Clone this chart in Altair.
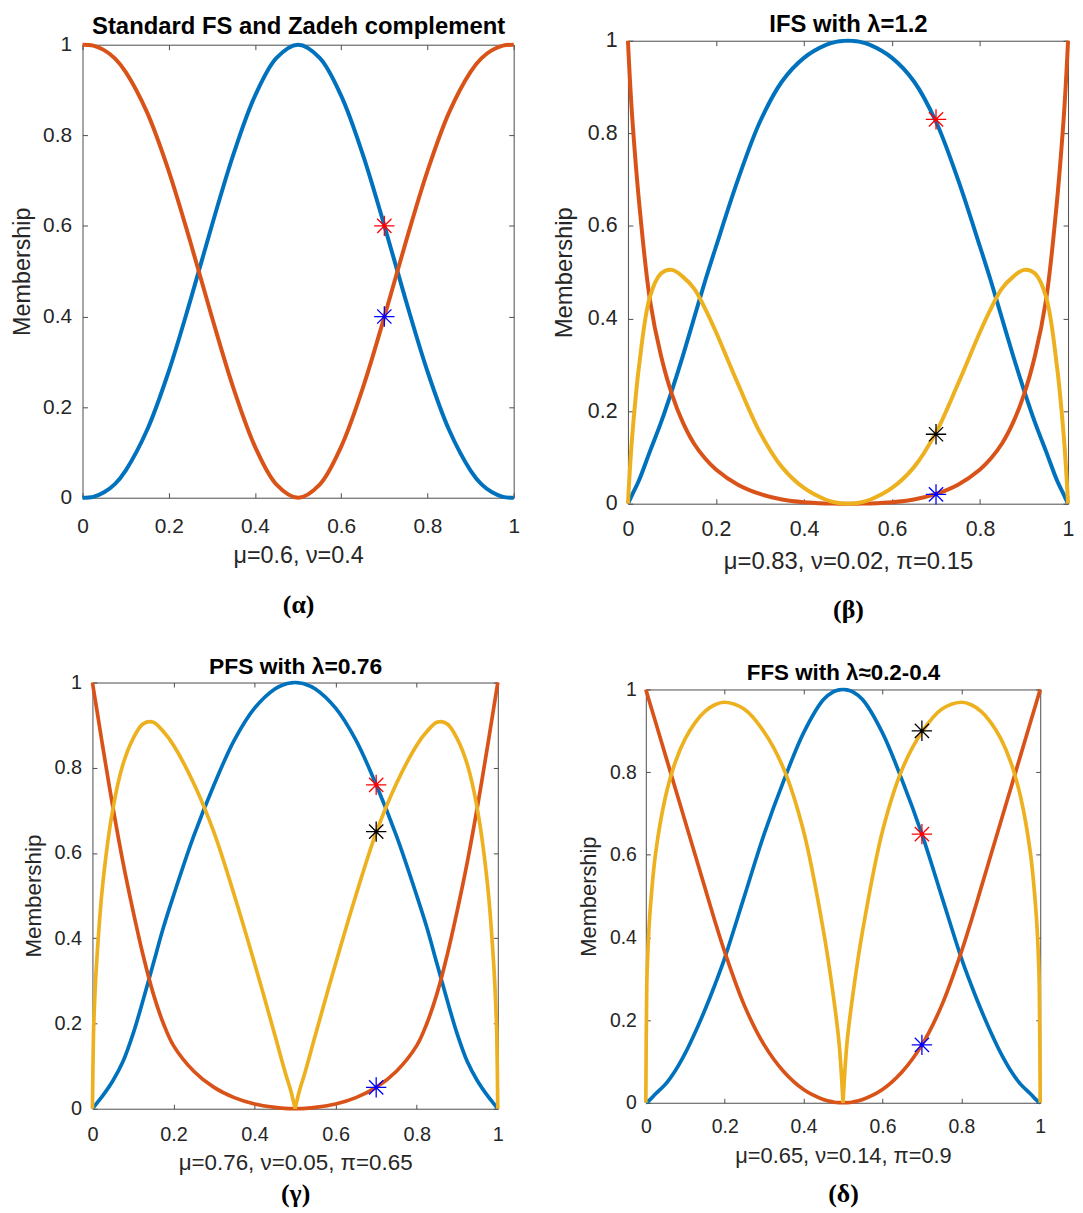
import altair as alt
import pandas as pd

# ---------------- values ----------------
TICKS = [0, 0.2, 0.4, 0.6, 0.8, 1]

# (α) standard fuzzy set and Zadeh complement
x_std = [0, 0.025, 0.05, 0.075, 0.1, 0.15, 0.2, 0.25, 0.3, 0.35, 0.4, 0.45, 0.5,
         0.55, 0.6, 0.65, 0.7, 0.75, 0.8, 0.85, 0.9, 0.925, 0.95, 0.975, 1]
mu_std = [0, 0.002, 0.012, 0.030, 0.060, 0.150, 0.279, 0.435, 0.601, 0.758, 0.887, 0.971, 1,
          0.971, 0.887, 0.758, 0.601, 0.435, 0.279, 0.150, 0.060, 0.030, 0.012, 0.002, 0]
nu_std = [1, 0.998, 0.988, 0.970, 0.940, 0.850, 0.721, 0.565, 0.399, 0.242, 0.113, 0.029, 0,
          0.029, 0.113, 0.242, 0.399, 0.565, 0.721, 0.850, 0.940, 0.970, 0.988, 0.998, 1]

# common sampling of the three other panels
x_grid = [0, 0.0025, 0.005, 0.01, 0.025, 0.05, 0.075, 0.1, 0.125, 0.15, 0.175, 0.2,
          0.25, 0.3, 0.35, 0.4, 0.45, 0.475, 0.49, 0.5,
          0.51, 0.525, 0.55, 0.6, 0.65, 0.7, 0.75, 0.8, 0.825, 0.85, 0.875, 0.9,
          0.925, 0.95, 0.975, 0.99, 0.995, 0.9975, 1]

# (β) IFS
mu_ifs = [0, 0.005, 0.01, 0.02, 0.05, 0.113, 0.175, 0.245, 0.32, 0.40, 0.48, 0.555,
          0.70, 0.825, 0.912, 0.963, 0.991, 0.998, 0.9997, 1,
          0.9997, 0.998, 0.991, 0.963, 0.912, 0.825, 0.70, 0.555, 0.48, 0.40, 0.32, 0.245,
          0.175, 0.113, 0.05, 0.02, 0.01, 0.005, 0]
nu_ifs = [1, 0.952, 0.908, 0.831, 0.655, 0.440, 0.320, 0.236, 0.175, 0.130, 0.098, 0.074,
          0.041, 0.021, 0.009, 0.003, 0.0005, 0.0001, 0, 0,
          0, 0.0001, 0.0005, 0.003, 0.009, 0.021, 0.041, 0.074, 0.098, 0.130, 0.175, 0.236,
          0.320, 0.440, 0.655, 0.831, 0.908, 0.952, 1]
pi_ifs = [0, 0.043, 0.082, 0.149, 0.295, 0.447, 0.497, 0.505, 0.490, 0.465, 0.422, 0.371,
          0.259, 0.154, 0.079, 0.034, 0.0085, 0.002, 0.0003, 0,
          0.0003, 0.002, 0.0085, 0.034, 0.079, 0.154, 0.259, 0.371, 0.422, 0.465, 0.490, 0.505,
          0.497, 0.447, 0.295, 0.149, 0.082, 0.043, 0]

# (γ) PFS
mu_pfs = [0, 0.003, 0.006, 0.012, 0.03, 0.065, 0.11, 0.175, 0.255, 0.34, 0.425, 0.50,
          0.64, 0.76, 0.865, 0.94, 0.985, 0.996, 0.999, 1,
          0.999, 0.996, 0.985, 0.94, 0.865, 0.76, 0.64, 0.50, 0.425, 0.34, 0.255, 0.175,
          0.11, 0.065, 0.03, 0.012, 0.006, 0.003, 0]
nu_pfs = [1, 0.985, 0.970, 0.941, 0.852, 0.710, 0.580, 0.465, 0.360, 0.270, 0.200, 0.148,
          0.088, 0.050, 0.026, 0.011, 0.003, 0.0008, 0.0001, 0,
          0.0001, 0.0008, 0.003, 0.011, 0.026, 0.050, 0.088, 0.148, 0.200, 0.270, 0.360, 0.465,
          0.580, 0.710, 0.852, 0.941, 0.970, 0.985, 1]
pi_pfs = [0, 0.173, 0.243, 0.338, 0.523, 0.701, 0.807, 0.868, 0.903, 0.907, 0.885, 0.853,
          0.763, 0.648, 0.501, 0.341, 0.173, 0.087, 0.040, 0,
          0.040, 0.087, 0.173, 0.341, 0.501, 0.648, 0.763, 0.853, 0.885, 0.907, 0.903, 0.868,
          0.807, 0.701, 0.523, 0.338, 0.243, 0.173, 0]

# (δ) FFS
mu_ffs = [0, 0.0012, 0.003, 0.007, 0.022, 0.045, 0.078, 0.12, 0.17, 0.225, 0.285, 0.35,
          0.50, 0.65, 0.78, 0.895, 0.975, 0.994, 0.999, 1,
          0.999, 0.994, 0.975, 0.895, 0.78, 0.65, 0.50, 0.35, 0.285, 0.225, 0.17, 0.12,
          0.078, 0.045, 0.022, 0.007, 0.003, 0.0012, 0]
nu_ffs = [1, 0.992, 0.984, 0.968, 0.920, 0.840, 0.760, 0.680, 0.600, 0.520, 0.440, 0.365,
          0.235, 0.140, 0.075, 0.032, 0.008, 0.002, 0.0003, 0,
          0.0003, 0.002, 0.008, 0.032, 0.075, 0.140, 0.235, 0.365, 0.440, 0.520, 0.600, 0.680,
          0.760, 0.840, 0.920, 0.968, 0.984, 0.992, 1]
pi_ffs = [0, 0.288, 0.361, 0.453, 0.605, 0.741, 0.825, 0.881, 0.920, 0.947, 0.963, 0.969,
          0.952, 0.897, 0.807, 0.657, 0.418, 0.262, 0.144, 0,
          0.144, 0.262, 0.418, 0.657, 0.807, 0.897, 0.952, 0.969, 0.963, 0.947, 0.920, 0.881,
          0.825, 0.741, 0.605, 0.453, 0.361, 0.288, 0]

# marked values at x = 0.7
star_x = 0.7
star_mu = [0.6, 0.83, 0.76, 0.65]
star_nu = [0.4, 0.02, 0.05, 0.14]
star_pi = [None, 0.15, 0.65, 0.9]

titles = ["Standard FS and Zadeh complement", "IFS with λ=1.2",
          "PFS with λ=0.76", "FFS with λ≈0.2-0.4"]
xlabels = ["μ=0.6, ν=0.4", "μ=0.83, ν=0.02, π=0.15",
           "μ=0.76, ν=0.05, π=0.65", "μ=0.65, ν=0.14, π=0.9"]
captions = ["(α)", "(β)", "(γ)", "(δ)"]
ylabel = "Membership"

# ---------------- layout and style ----------------
W, H = 1074, 1203
GEO = [
    dict(x0=75, x1=509, y0=33, y1=489, ft=21, fl=23.5, ftt=24, fc=26, lw=4.0, tk=5,
         lpx=18, lpy=11, xty=65, ytx=-60.5, tty=-11, capy=116),
    dict(x0=624, x1=1067, y0=29, y1=495, ft=21.5, fl=24, ftt=24, fc=26, lw=4.0, tk=5,
         lpx=15.5, lpy=11, xty=65.3, ytx=-63.4, tty=-9.7, capy=115),
    dict(x0=85, x1=493, y0=675, y1=1104, ft=20, fl=22.5, ftt=23, fc=26, lw=3.7, tk=4.5,
         lpx=15.8, lpy=11, xty=61.3, ytx=-59.1, tty=-8.8, capy=93),
    dict(x0=642, x1=1039, y0=682, y1=1098, ft=19.5, fl=22, ftt=22.5, fc=26, lw=3.7, tk=4.5,
         lpx=15.2, lpy=9.5, xty=60, ytx=-57.4, tty=-9.6, capy=99),
]
SERIES = ["mu", "nu", "pi"]
LINE_COLORS = ["#0072BD", "#D95319", "#EDB120"]
STAR_COLORS = ["#FF0000", "#0000FF", "#000000"]
STAR = "M-1,0L1,0M0,-1L0,1M-0.7,-0.7L0.7,0.7M-0.7,0.7L0.7,-0.7"
FONT = "Liberation Sans"
CAPFONT = "Liberation Serif"
TXT = "#262626"
FRAME = "#4d4d4d"


def lines_df(xs, series):
    rows = []
    for name, ys in series:
        for x, y in zip(xs, ys):
            if name == "pi":
                if x <= 0.5:
                    rows.append(dict(x=x, y=y, s=name, seg="L"))
                if x >= 0.5:
                    rows.append(dict(x=x, y=y, s=name, seg="R"))
            else:
                rows.append(dict(x=x, y=y, s=name, seg="A"))
    return pd.DataFrame(rows)


def panel(i, xs, series):
    g = GEO[i]
    xsc = alt.Scale(domain=[0, 1], range=[g["x0"], g["x1"]], nice=False, zero=False)
    ysc = alt.Scale(domain=[0, 1], range=[g["y1"], g["y0"]], nice=False, zero=False)
    cx = (g["x0"] + g["x1"]) / 2
    cy = (g["y0"] + g["y1"]) / 2

    xaxis = alt.Axis(orient="bottom", offset=g["y1"] - H, values=TICKS, format="~g",
                     ticks=False, tickSize=0, grid=False, domain=True,
                     domainColor=FRAME, domainWidth=1,
                     labelFont=FONT, labelFontSize=g["ft"], labelColor=TXT,
                     labelPadding=g["lpx"], labelFlush=False,
                     title=xlabels[i], titleFont=FONT, titleFontSize=g["fl"],
                     titleFontWeight="normal", titleColor=TXT,
                     titleX=cx, titleY=g["xty"], titleBaseline="alphabetic",
                     titleAlign="center")
    yaxis = alt.Axis(orient="left", offset=-g["x0"], values=TICKS, format="~g",
                     ticks=False, tickSize=0, grid=False, domain=True,
                     domainColor=FRAME, domainWidth=1,
                     labelFont=FONT, labelFontSize=g["ft"], labelColor=TXT,
                     labelPadding=g["lpy"], labelFlush=False,
                     title=ylabel, titleFont=FONT, titleFontSize=g["fl"],
                     titleFontWeight="normal", titleColor=TXT,
                     titleX=g["ytx"], titleY=cy, titleAngle=270,
                     titleBaseline="middle", titleAlign="center")

    lines = alt.Chart(lines_df(xs, series)).mark_line(
        strokeWidth=g["lw"], interpolate="catmull-rom"
    ).encode(
        x=alt.X("x:Q", scale=xsc, axis=xaxis),
        y=alt.Y("y:Q", scale=ysc, axis=yaxis),
        color=alt.Color("s:N", scale=alt.Scale(domain=SERIES, range=LINE_COLORS), legend=None),
        detail="seg:N",
    )

    srows = [dict(x=star_x, y=star_mu[i], s="mu"), dict(x=star_x, y=star_nu[i], s="nu")]
    if star_pi[i] is not None:
        srows.append(dict(x=star_x, y=star_pi[i], s="pi"))
    stars = alt.Chart(pd.DataFrame(srows)).mark_point(
        shape=STAR, filled=False, size=420, strokeWidth=1.3, opacity=1
    ).encode(
        x=alt.X("x:Q", scale=xsc, axis=None),
        y=alt.Y("y:Q", scale=ysc, axis=None),
        stroke=alt.Stroke("s:N", scale=alt.Scale(domain=SERIES, range=STAR_COLORS), legend=None),
    )

    tdf = pd.DataFrame({"x": TICKS, "y": TICKS})
    common = dict(values=TICKS, labels=False, grid=False, ticks=True,
                  tickSize=g["tk"], tickColor=FRAME, tickWidth=1)
    # inward ticks on bottom and left edges + caption under the panel
    t1 = alt.Chart(tdf).mark_point(opacity=0).encode(
        x=alt.X("x:Q", scale=xsc, axis=alt.Axis(
            orient="top", offset=-g["y1"], domain=False,
            title=captions[i], titleFont=CAPFONT, titleFontSize=g["fc"],
            titleFontWeight="bold", titleColor="#000000",
            titleX=cx, titleY=g["capy"], titleBaseline="alphabetic", titleAlign="center",
            **common)),
        y=alt.Y("y:Q", scale=ysc, axis=alt.Axis(
            orient="right", offset=g["x0"] - W, domain=False, title=None, **common)),
    )
    # inward ticks + frame on top and right edges + panel title
    t2 = alt.Chart(tdf).mark_point(opacity=0).encode(
        x=alt.X("x:Q", scale=xsc, axis=alt.Axis(
            orient="bottom", offset=g["y0"] - H, domain=True,
            domainColor=FRAME, domainWidth=1,
            title=titles[i], titleFont=FONT, titleFontSize=g["ftt"],
            titleFontWeight="bold", titleColor="#000000",
            titleX=cx, titleY=g["tty"], titleBaseline="alphabetic", titleAlign="center",
            **common)),
        y=alt.Y("y:Q", scale=ysc, axis=alt.Axis(
            orient="left", offset=-g["x1"], domain=True,
            domainColor=FRAME, domainWidth=1, title=None, **common)),
    )
    return alt.layer(lines, stars, t1, t2).resolve_axis(x="independent", y="independent")


panels = [
    panel(0, x_std, [("mu", mu_std), ("nu", nu_std)]),
    panel(1, x_grid, [("mu", mu_ifs), ("nu", nu_ifs), ("pi", pi_ifs)]),
    panel(2, x_grid, [("mu", mu_pfs), ("nu", nu_pfs), ("pi", pi_pfs)]),
    panel(3, x_grid, [("mu", mu_ffs), ("nu", nu_ffs), ("pi", pi_ffs)]),
]

chart = alt.layer(*panels).resolve_scale(x="independent", y="independent").properties(
    width=W, height=H, autosize=alt.AutoSizeParams(type="none"), padding=0,
    background="#ffffff",
).configure_view(stroke=None)

chart.save("out.html", embed_options={"renderer": "svg", "actions": False})
